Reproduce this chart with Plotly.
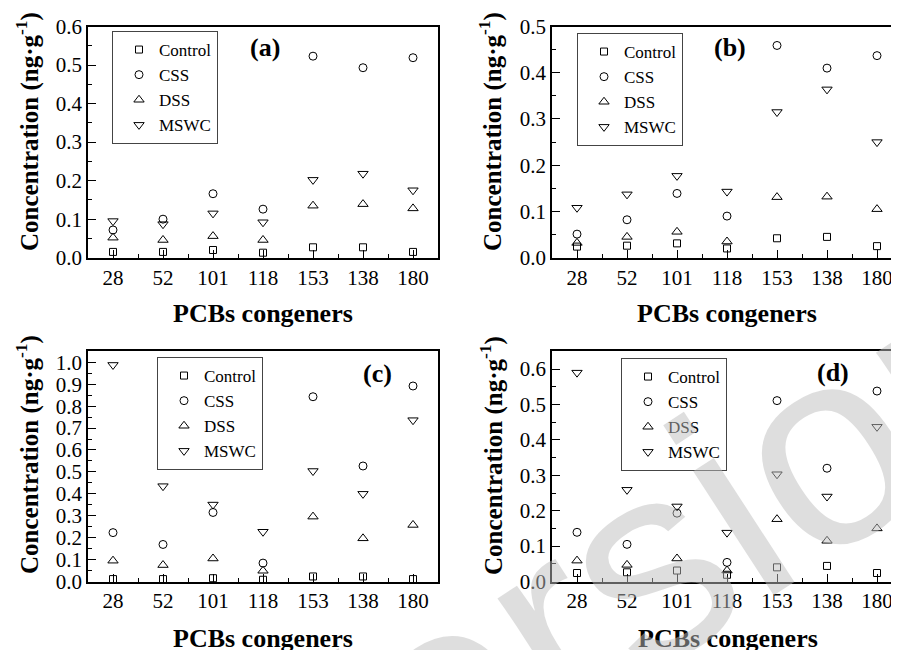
import plotly.graph_objects as go

congeners = ["28", "52", "101", "118", "153", "138", "180"]
series_names = ["Control", "CSS", "DSS", "MSWC"]

a_control = [0.015, 0.015, 0.020, 0.013, 0.027, 0.027, 0.015]
a_css = [0.072, 0.100, 0.166, 0.126, 0.523, 0.493, 0.519]
a_dss = [0.052, 0.046, 0.056, 0.046, 0.135, 0.139, 0.128]
a_mswc = [0.095, 0.087, 0.115, 0.092, 0.202, 0.218, 0.175]

b_control = [0.024, 0.026, 0.031, 0.020, 0.042, 0.045, 0.025]
b_css = [0.051, 0.082, 0.139, 0.090, 0.459, 0.410, 0.437]
b_dss = [0.032, 0.045, 0.056, 0.035, 0.131, 0.132, 0.105]
b_mswc = [0.108, 0.137, 0.177, 0.143, 0.315, 0.364, 0.250]

c_control = [0.011, 0.011, 0.015, 0.008, 0.023, 0.023, 0.011]
c_css = [0.223, 0.169, 0.315, 0.084, 0.843, 0.527, 0.892]
c_dss = [0.095, 0.075, 0.105, 0.049, 0.296, 0.197, 0.258]
c_mswc = [0.988, 0.435, 0.351, 0.227, 0.504, 0.400, 0.736]

d_control = [0.024, 0.026, 0.031, 0.019, 0.040, 0.044, 0.024]
d_css = [0.139, 0.105, 0.193, 0.054, 0.511, 0.320, 0.538]
d_dss = [0.059, 0.047, 0.065, 0.031, 0.176, 0.115, 0.150]
d_mswc = [0.590, 0.259, 0.212, 0.138, 0.303, 0.240, 0.437]

panel_labels = ["(a)", "(b)", "(c)", "(d)"]
y_title = "Concentration (ng·g<sup>-1</sup>)"
x_title = "PCBs congeners"

W, H = 899, 650
OFF = 8  # default page body margin shifts the figure by 8px
SERIF = "Liberation Serif"


def fx(px):
    return (px - OFF) / W


def fy(py):
    return 1 - (py - OFF) / H


panels = [
    [a_control, a_css, a_dss, a_mswc],
    [b_control, b_css, b_dss, b_mswc],
    [c_control, c_css, c_dss, c_mswc],
    [d_control, d_css, d_dss, d_mswc],
]
symbols = ["square-open", "circle-open", "triangle-up-open", "triangle-down-open"]
sizes = [7, 8, 9, 9]

# screen-pixel geometry of each plot frame (left, right, top, bottom)
boxes = [(88, 438, 26.5, 257.7), (552, 902, 26.5, 257.7),
         (88, 438, 350.7, 581.5), (552, 902, 350.7, 581.5)]
yranges = [[0, 0.6], [0, 0.5], [0, 1.053], [0, 0.652]]
legend_pos = [(112, 31), (577, 33), (157, 357), (621, 358)]
label_pos = [(265, 47), (730, 47), (377, 373), (833, 372)]
ytitle_pos = [(27, 132), (490, 132), (27, 455), (491, 456)]
xtitle_pos = [(263, 313), (727, 313), (263, 638), (728, 638)]

xidx = list(range(len(congeners)))

fig = go.Figure()
layout = dict(template="none", width=W, height=H,
              margin=dict(l=0, r=0, t=0, b=0, pad=0, autoexpand=False),
              paper_bgcolor="white", plot_bgcolor="white",
              font=dict(family=SERIF, color="black"), annotations=[])

for p in range(4):
    sfx = "" if p == 0 else str(p + 1)
    leg = "legend" + sfx
    for s in range(4):
        fig.add_trace(go.Scatter(
            x=xidx, y=panels[p][s], mode="markers", name=series_names[s],
            xaxis="x" + sfx, yaxis="y" + sfx, legend=leg,
            marker=dict(symbol=symbols[s], size=sizes[s], color="black",
                        line=dict(width=1, color="black")),
            cliponaxis=False,
        ))
    l, r, t, b = boxes[p]
    layout["xaxis" + sfx] = dict(
        domain=[fx(l), min(fx(r), 1)], anchor="y" + sfx, range=[-0.5, 6.5],
        automargin=False,
        tickmode="array", tickvals=xidx, ticktext=congeners,
        ticks="inside", ticklen=8, tickwidth=1.2, tickcolor="black",
        minor=dict(tickmode="array", tickvals=[i + 0.5 for i in xidx[:-1]],
                   ticks="inside", ticklen=4, tickwidth=1.2, tickcolor="black"),
        showline=True, linecolor="black", linewidth=1.5, mirror=True,
        showgrid=False, zeroline=False, ticklabeloverflow="allow",
        tickfont=dict(family=SERIF, size=21, color="black"),
    )
    layout["yaxis" + sfx] = dict(
        domain=[fy(b), fy(t)], anchor="x" + sfx, range=yranges[p],
        automargin=False,
        dtick=0.1, tick0=0, tickformat=".1f",
        ticks="inside", ticklen=8, tickwidth=1.2, tickcolor="black",
        minor=dict(dtick=0.05, ticks="inside", ticklen=4, tickwidth=1.2,
                   tickcolor="black", showgrid=False),
        showline=True, linecolor="black", linewidth=1.5, mirror=True,
        showgrid=False, zeroline=False,
        tickfont=dict(family=SERIF, size=21, color="black"),
    )
    lx, ly = legend_pos[p]
    layout[leg] = dict(
        x=fx(lx), y=fy(ly), xref="paper", yref="paper",
        xanchor="left", yanchor="top",
        bgcolor="white", bordercolor="#444", borderwidth=1,
        font=dict(family=SERIF, size=17, color="black"),
        itemwidth=30, tracegroupgap=0, indentation=6,
    )
    px_, py_ = label_pos[p]
    layout["annotations"].append(dict(
        text="<b>" + panel_labels[p] + "</b>", x=fx(px_), y=fy(py_),
        xref="paper", yref="paper", showarrow=False,
        font=dict(family=SERIF, size=26, color="black"),
        xanchor="center", yanchor="middle"))
    tx, ty = ytitle_pos[p]
    layout["annotations"].append(dict(
        text="<b>" + y_title + "</b>", x=fx(tx), y=fy(ty),
        xref="paper", yref="paper", showarrow=False, textangle=-90,
        font=dict(family=SERIF, size=25, color="black"),
        xanchor="center", yanchor="middle"))
    tx, ty = xtitle_pos[p]
    layout["annotations"].append(dict(
        text="<b>" + x_title + "</b>", x=fx(tx), y=fy(ty),
        xref="paper", yref="paper", showarrow=False,
        font=dict(family=SERIF, size=26, color="black"),
        xanchor="center", yanchor="middle"))

# faint watermark
layout["annotations"].append(dict(
    text="Version", x=fx(627), y=fy(575), xref="paper", yref="paper",
    showarrow=False, textangle=-33,
    font=dict(family="Liberation Sans", size=280,
              color="rgba(190,190,190,0.5)"),
    xanchor="center", yanchor="middle"))

fig.update_layout(**layout)
fig.write_html("out.html")
